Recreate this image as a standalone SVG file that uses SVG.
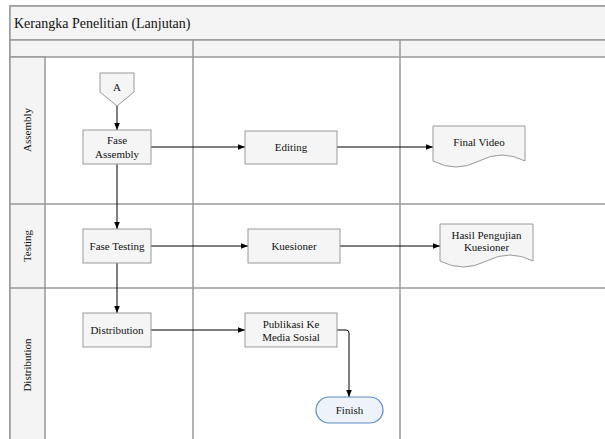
<svg xmlns="http://www.w3.org/2000/svg" width="605" height="439" viewBox="0 0 605 439">
<style>
.frame{fill:#f4f4f4;stroke:#999;stroke-width:1.5}
.line{stroke:#999;stroke-width:1.5;fill:none}
.box{fill:#f5f5f5;stroke:#999;stroke-width:1}
.t{font-size:11px;fill:#111;text-anchor:middle}
.title{font-size:14px;fill:#111}
.c{stroke:#000;stroke-width:1;fill:none;marker-end:url(#arr)}
</style>
<defs>
<marker id="arr" viewBox="0 0 10 10" refX="10" refY="5" markerWidth="7" markerHeight="7" markerUnits="userSpaceOnUse" orient="auto">
<path d="M0,1 L10,5 L0,9 Z" fill="#000"/>
</marker>
</defs>
<rect width="605" height="439" fill="#fff"/>
<g font-family="Liberation Serif, Times New Roman, serif">
<g id="pool">
<rect class="frame" x="10" y="6" width="610" height="450" style="fill:#fff"/>
<rect class="frame" x="10" y="6" width="610" height="34"/>
<text class="title" x="14" y="28">Kerangka Penelitian (Lanjutan)</text>
<rect class="frame" x="10" y="40" width="610" height="17"/>
<rect class="frame" x="10" y="57" width="35" height="400"/>
<line class="line" x1="10" y1="204" x2="620" y2="204"/>
<line class="line" x1="10" y1="288" x2="620" y2="288"/>
<line class="line" x1="193" y1="40" x2="193" y2="445"/>
<line class="line" x1="400" y1="40" x2="400" y2="445"/>
<text class="t" transform="translate(31,130) rotate(-90)">Assembly</text>
<text class="t" transform="translate(31,246) rotate(-90)">Testing</text>
<text class="t" transform="translate(31,365) rotate(-90)">Distribution</text>
</g>
<g id="connectors">
<path class="c" d="M117,106 V130"/>
<path class="c" d="M151,147 H245"/>
<path class="c" d="M337,147 H433"/>
<path class="c" d="M117,164 V229"/>
<path class="c" d="M151,246 H248"/>
<path class="c" d="M340,246 H440"/>
<path class="c" d="M117,263 V313"/>
<path class="c" d="M151,330 H245"/>
<path class="c" d="M337,330 H346 Q349,330 349,333 V397"/>
</g>
<g id="node-a">
<path class="box" d="M100,73 H134 V92 L117,106 L100,92 Z"/>
<text class="t" x="117" y="91">A</text>
</g>
<g id="node-fase-assembly">
<rect class="box" x="83" y="130" width="68" height="34"/>
<text class="t" x="117" y="144">Fase</text>
<text class="t" x="117" y="158">Assembly</text>
</g>
<g id="node-editing">
<rect class="box" x="245" y="131" width="92" height="33"/>
<text class="t" x="291" y="151">Editing</text>
</g>
<g id="node-final-video">
<path class="box" d="M433,126 H525 V161 Q502,149 479,161 Q456,173 433,161 Z"/>
<text class="t" x="479" y="146">Final Video</text>
</g>
<g id="node-fase-testing">
<rect class="box" x="83" y="229" width="68" height="34"/>
<text class="t" x="117" y="250">Fase Testing</text>
</g>
<g id="node-kuesioner">
<rect class="box" x="248" y="229" width="92" height="34"/>
<text class="t" x="294" y="250">Kuesioner</text>
</g>
<g id="node-hasil">
<path class="box" d="M440,224 H533 V261 Q510,249 486.5,261 Q463,273 440,261 Z"/>
<text class="t" x="486.5" y="239">Hasil Pengujian</text>
<text class="t" x="486.5" y="251">Kuesioner</text>
</g>
<g id="node-distribution">
<rect class="box" x="83" y="313" width="68" height="34"/>
<text class="t" x="117" y="334">Distribution</text>
</g>
<g id="node-publikasi">
<rect class="box" x="245" y="313" width="92" height="34"/>
<text class="t" x="291" y="328">Publikasi Ke</text>
<text class="t" x="291" y="341">Media Sosial</text>
</g>
<g id="node-finish">
<rect x="316" y="397" width="67" height="26" rx="13" ry="13" fill="#eef3fa" stroke="#5b8cc6" stroke-width="1.2"/>
<text class="t" x="349.5" y="414">Finish</text>
</g>
</g>
</svg>
